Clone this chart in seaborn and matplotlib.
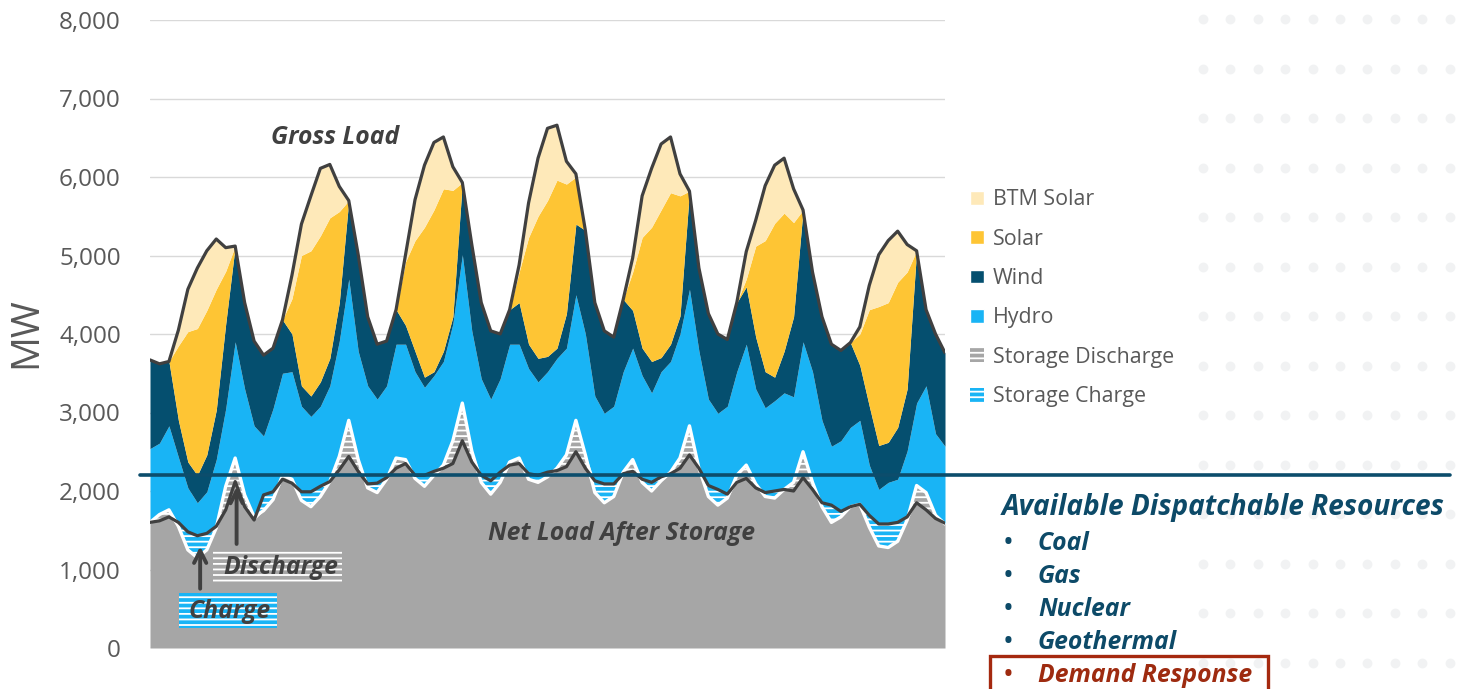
import numpy as np
import pandas as pd
import matplotlib
matplotlib.use('Agg')
import matplotlib.pyplot as plt
import matplotlib.transforms as mtransforms
from matplotlib.patches import Patch, Rectangle
from matplotlib.lines import Line2D
import seaborn as sns

# one week, every 2 hours
hours = list(range(0, 169, 2))

# boundaries of the stack, MW
gross_load = [3670, 3620, 3650, 4050, 4570, 4840, 5060, 5210, 5100, 5120, 4400, 3910,
              3730, 3820, 4180, 4750, 5400, 5760, 6110, 6160, 5880, 5700, 5010, 4220,
              3870, 3910, 4310, 5010, 5710, 6150, 6440, 6510, 6130, 5930, 5140, 4400,
              4040, 4000, 4310, 4880, 5670, 6240, 6620, 6660, 6200, 6040, 5320, 4400,
              4040, 3960, 4440, 4970, 5760, 6110, 6420, 6510, 6040, 5820, 4840, 4260,
              4000, 3930, 4400, 5050, 5450, 5890, 6150, 6240, 5850, 5580, 4790, 4220,
              3870, 3790, 3890, 4090, 4620, 5010, 5190, 5310, 5140, 5060, 4310, 4000, 3760]
top_solar = [3670, 3620, 3650, 3850, 4030, 4070, 4300, 4570, 4800, 5120, 4400, 3910,
             3730, 3820, 4180, 4450, 5000, 5060, 5250, 5480, 5560, 5700, 5010, 4220,
             3870, 3910, 4310, 4920, 5190, 5360, 5580, 5850, 5830, 5930, 5140, 4400,
             4040, 4000, 4310, 4790, 5230, 5500, 5700, 5960, 5910, 6000, 5320, 4400,
             4040, 3960, 4440, 4790, 5230, 5360, 5580, 5800, 5760, 5820, 4840, 4260,
             4000, 3930, 4400, 4700, 5120, 5190, 5410, 5540, 5420, 5580, 4790, 4220,
             3870, 3790, 3890, 4000, 4310, 4350, 4400, 4660, 4790, 5060, 4310, 4000, 3760]
top_wind = [3670, 3620, 3650, 2900, 2370, 2200, 2460, 3030, 4130, 5120, 4400, 3910,
            3730, 3820, 4180, 4000, 3340, 3210, 3390, 3690, 4400, 5700, 5010, 4220,
            3870, 3910, 4310, 4110, 3780, 3450, 3520, 3780, 4220, 5930, 5140, 4400,
            4040, 4000, 4310, 4400, 3870, 3690, 3715, 3820, 4260, 5400, 5320, 4400,
            4040, 3960, 4440, 4300, 3820, 3650, 3700, 3870, 4230, 5820, 4840, 4260,
            4000, 3930, 4400, 4600, 3960, 3520, 3450, 3780, 4220, 5580, 4790, 4220,
            3870, 3790, 3890, 3600, 3080, 2580, 2620, 2810, 3300, 5060, 4310, 4000, 3760]
top_hydro = [2540, 2610, 2830, 2430, 2040, 1850, 1990, 2400, 3050, 3900, 3300, 2830,
             2700, 3050, 3500, 3520, 3080, 2950, 3080, 3340, 3910, 4700, 3780, 3340,
             3170, 3340, 3870, 3870, 3520, 3320, 3470, 3650, 4130, 5010, 4040, 3430,
             3170, 3430, 3870, 3870, 3560, 3390, 3520, 3690, 3820, 4500, 4000, 3210,
             2990, 3080, 3520, 3820, 3470, 3250, 3520, 3650, 4000, 4570, 3780, 3170,
             2990, 3080, 3520, 3870, 3300, 3060, 3150, 3250, 3200, 3900, 3520, 2900,
             2570, 2640, 2810, 2900, 2330, 2020, 2110, 2150, 2510, 3120, 3340, 2730, 2570]
net_load = [1600, 1700, 1760, 1550, 1250, 1150, 1250, 1530, 2060, 2420, 1950, 1670,
            1750, 1890, 2200, 2150, 1880, 1800, 1930, 2120, 2440, 2900, 2400, 2040,
            1980, 2150, 2420, 2400, 2160, 2060, 2200, 2330, 2640, 3120, 2510, 2110,
            1960, 2110, 2370, 2420, 2150, 2110, 2180, 2290, 2460, 2900, 2460, 1980,
            1850, 1930, 2240, 2400, 2110, 2000, 2130, 2240, 2420, 2830, 2290, 1930,
            1820, 1910, 2200, 2330, 2090, 1930, 1910, 2020, 2110, 2500, 2110, 1800,
            1600, 1670, 1800, 1830, 1540, 1300, 1280, 1360, 1630, 2070, 1980, 1690, 1580]
net_after_storage = [1600, 1620, 1670, 1600, 1480, 1430, 1460, 1550, 1760, 2120, 1800, 1630,
                     1950, 1990, 2150, 2100, 1990, 1990, 2060, 2120, 2270, 2440, 2250, 2090,
                     2100, 2170, 2290, 2350, 2200, 2200, 2250, 2290, 2350, 2640, 2370, 2200,
                     2130, 2240, 2330, 2350, 2220, 2200, 2240, 2260, 2310, 2500, 2290, 2130,
                     2090, 2090, 2220, 2250, 2150, 2110, 2180, 2220, 2290, 2460, 2290, 2070,
                     2020, 1960, 2110, 2160, 2040, 1980, 2000, 2020, 2000, 2170, 2020, 1850,
                     1820, 1740, 1800, 1830, 1690, 1580, 1580, 1600, 1670, 1850, 1760, 1650, 1590]
dispatch_limit = 2200

resources = ['Coal', 'Gas', 'Nuclear', 'Geothermal', 'Demand Response']

df = pd.DataFrame({'hour': hours, 'gross': gross_load, 'solar_top': top_solar,
                   'wind_top': top_wind, 'hydro_top': top_hydro,
                   'net': net_load, 'net_after': net_after_storage})
df['base'] = np.minimum(df['net'], df['net_after'])
df['hydro_bottom'] = np.maximum(df['net'], df['net_after'])

c_gray = '#a6a6a6'
c_hydro = '#19b4f5'
c_wind = '#054f6f'
c_solar = '#fec534'
c_btm = '#fee9b9'
c_line = '#404040'
c_teal = '#0c4d6c'
c_text = '#595959'

sns.set_theme(style='white')
plt.rcParams['font.family'] = ['Open Sans', 'DejaVu Sans']
plt.rcParams['hatch.linewidth'] = 1.3

W, H = 1459, 689
fig = plt.figure(figsize=(W / 100, H / 100), dpi=100)

def fx(x):
    return x / W

def fy(y):
    return 1 - y / H

# background dots on the right
bg = fig.add_axes([0, 0, 1, 1], zorder=-5)
bg.set_xlim(0, W)
bg.set_ylim(H, 0)
bg.axis('off')
dx, dy = np.meshgrid(np.arange(1203, 1460, 27.4), np.arange(19, 689, 49.5))
bg.scatter(dx.ravel(), dy.ravel(), s=50, color='#f1f2f3', linewidths=0)

ax = fig.add_axes([fx(150), fy(648), fx(945) - fx(150), fy(20) - fy(648)])
ax.patch.set_alpha(0)

x = df['hour']
ax.fill_between(x, 0, df['base'], color=c_gray, lw=0, zorder=2)
ax.fill_between(x, df['net'], df['net_after'], where=df['net_after'] > df['net'], interpolate=True,
                facecolor=c_hydro, edgecolor='white', hatch='---', lw=0, zorder=2)
ax.fill_between(x, df['net_after'], df['net'], where=df['net'] > df['net_after'], interpolate=True,
                facecolor=c_gray, edgecolor='white', hatch='---', lw=0, zorder=2)
ax.fill_between(x, df['hydro_bottom'], df['hydro_top'], color=c_hydro, lw=0, zorder=2)
ax.fill_between(x, df['hydro_top'], df['wind_top'], color=c_wind, lw=0, zorder=2)
ax.fill_between(x, df['wind_top'], df['solar_top'], color=c_solar, lw=0, zorder=2)
ax.fill_between(x, df['solar_top'], df['gross'], color=c_btm, lw=0, zorder=2)

sns.lineplot(data=df, x='hour', y='net', color='white', lw=2.4, ax=ax, zorder=3)
sns.lineplot(data=df, x='hour', y='net_after', color=c_line, lw=2.3, ax=ax, zorder=4)
sns.lineplot(data=df, x='hour', y='gross', color=c_line, lw=2.3, ax=ax, zorder=4)

ax.set_xlim(0, 168)
ax.set_ylim(0, 8000)
ax.set_yticks(range(0, 8001, 1000))
ax.set_yticklabels([f'{v:,}' for v in range(0, 8001, 1000)], color=c_text, fontsize=17.5)
ax.set_xticks([])
ax.tick_params(axis='y', length=0, pad=21)
ax.grid(axis='y', color='#d9d9d9', lw=1, zorder=0)
ax.set_axisbelow(True)
for s in ax.spines.values():
    s.set_visible(False)
ax.set_xlabel('')
ax.set_ylabel('')
fig.text(fx(26), fy(333), 'MW', rotation=90, ha='center', va='center', fontsize=28, color=c_text)

# dispatchable limit line across the slide
tr = mtransforms.blended_transform_factory(fig.transFigure, ax.transData)
ax.add_line(Line2D([fx(140), fx(1450)], [dispatch_limit, dispatch_limit], transform=tr,
                   color=c_teal, lw=2.6, clip_on=False, zorder=6))

# annotations
ann = dict(ha='center', va='center', fontsize=17.8, fontweight='bold',
           fontstyle='italic', color=c_line, zorder=7)
ax.text(39.1, 6500, 'Gross Load', **ann)
ax.text(99.7, 1460, 'Net Load After Storage', **ann)
ax.add_patch(Rectangle((13.3, 841), 27.3, 407, facecolor=c_gray, edgecolor='white',
                       hatch='---', lw=0, zorder=5))
ax.add_patch(Rectangle((6.1, 255), 20.7, 445, facecolor=c_hydro, edgecolor='white',
                       hatch='---', lw=0, zorder=5))
ax.text(27.6, 1020, 'Discharge', **ann)
ax.text(16.8, 470, 'Charge', **ann)
arrow = dict(arrowstyle='->', lw=2.8, color=c_line, mutation_scale=22)
ax.annotate('', xy=(10.6, 1330), xytext=(10.6, 720), arrowprops=arrow, zorder=7)
ax.annotate('', xy=(18.3, 2090), xytext=(18.3, 1290), arrowprops=arrow, zorder=7)

# legend
handles = [Patch(facecolor=c_btm, label='BTM Solar'),
           Patch(facecolor=c_solar, label='Solar'),
           Patch(facecolor=c_wind, label='Wind'),
           Patch(facecolor=c_hydro, label='Hydro'),
           Patch(facecolor=c_gray, edgecolor='white', hatch='---', lw=0, label='Storage Discharge'),
           Patch(facecolor=c_hydro, edgecolor='white', hatch='---', lw=0, label='Storage Charge')]
leg = fig.legend(handles=handles, loc='upper left', bbox_to_anchor=(fx(951), fy(170)),
                 frameon=False, fontsize=15.4, handlelength=0.62, handleheight=0.62,
                 handletextpad=0.45, labelspacing=0.86)
for t in leg.get_texts():
    t.set_color(c_text)

# available dispatchable resources
c_res = '#0d4a68'
c_dr = '#9e2b10'
fig.text(fx(1002), fy(507), 'Available Dispatchable Resources', ha='left', va='center',
         fontsize=20.2, fontweight='bold', fontstyle='italic', color=c_res)
for i, name in enumerate(resources):
    yy = 543 + 33.2 * i
    col = c_dr if name == 'Demand Response' else c_res
    fig.text(fx(1008), fy(yy), '\u2022', ha='center', va='center', fontsize=21, color=col)
    fig.text(fx(1038), fy(yy), name, ha='left', va='center', fontsize=17.8,
             fontweight='bold', fontstyle='italic', color=col)
fig.add_artist(Rectangle((fx(990), fy(700)), fx(1268) - fx(990), fy(656) - fy(700),
                         transform=fig.transFigure, fill=False, edgecolor='#a5290f', lw=2.4))

fig.savefig('out.png', dpi=100)
